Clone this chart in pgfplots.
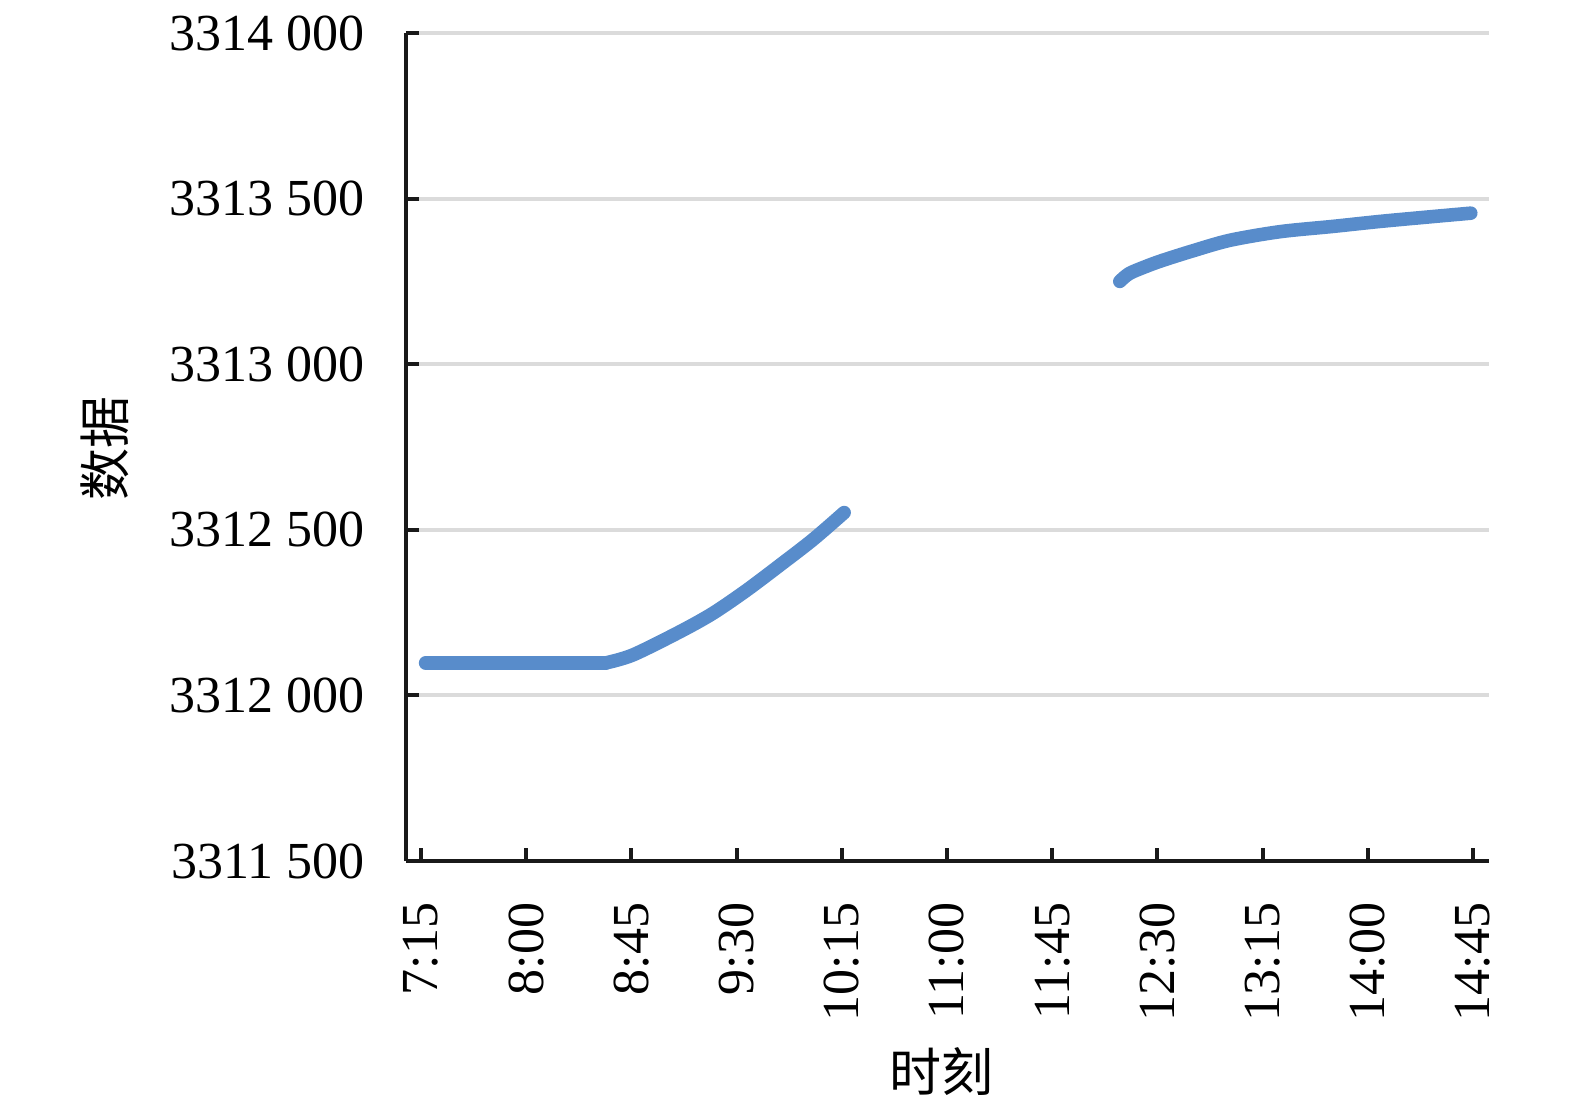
\documentclass[border=0pt]{standalone}
\usepackage{fontspec}
\setmainfont{Liberation Serif}
\newfontfamily\cjk{Noto Sans CJK SC}
\usepackage{pgfplots}
\pgfplotsset{compat=1.18}
\definecolor{lineblue}{RGB}{88,140,203}
\begin{document}
\begin{tikzpicture}
\path[use as bounding box] (-101.5bp,-61.75bp) rectangle (292.25bp,215.25bp);
\begin{axis}[
  scale only axis, width=270.75bp, height=207bp,
  xmin=428.6, xmax=891.8, ymin=3311500, ymax=3314000,
  axis x line*=bottom, axis y line*=left,
  axis line style={-, line width=1bp, black!90},
  major tick length=3.25bp,
  tick style={line width=1bp, black!90},
  xtick={435,480,525,570,615,660,705,750,795,840,885},
  xticklabels={7:15,8:00,8:45,9:30,10:15,11:00,11:45,12:30,13:15,14:00,14:45},
  ytick={3311500,3312000,3312500,3313000,3313500,3314000},
  yticklabels={3311\ 500,3312\ 000,3312\ 500,3313\ 000,3313\ 500,3314\ 000},
  scaled y ticks=false,
  ymajorgrids,
  major grid style={line width=1bp, color=gray!28},
  ticklabel style={font=\fontsize{13bp}{15bp}\selectfont, inner sep=0pt},
  xticklabel style={rotate=90, anchor=east},
  yticklabel style={anchor=east},
  xticklabel shift=10.25bp,
  yticklabel shift=10.25bp,
  xlabel={\cjk 时刻},
  ylabel={\cjk 数据},
  label style={font=\fontsize{13bp}{15bp}\selectfont},
  xlabel style={at={(axis description cs:0.4949,-0.2548)}, anchor=center},
  ylabel style={at={(axis description cs:-0.2779,0.4976)}, anchor=center, rotate=0},
]
\addplot[lineblue, line width=3.4bp, line cap=round, line join=round] coordinates {
  (437,3312098) (460,3312098) (490,3312098) (514,3312098)
};
\addplot[lineblue, line width=3.4bp, line cap=round, line join=round, smooth, tension=0.5] coordinates {
  (514,3312098) (525.6,3312122) (545.7,3312192) (559.9,3312248) (574.4,3312318)
  (588.5,3312393) (602.6,3312470) (616,3312552)
};
\addplot[lineblue, line width=3.4bp, line cap=round, line join=round, smooth, tension=0.5] coordinates {
  (733.9,3313250) (738,3313274) (745.4,3313296) (752,3313313)
  (765,3313342) (780.9,3313374) (802.3,3313400) (825,3313416)
  (845.1,3313431) (865,3313444) (884,3313456)
};
\end{axis}
\end{tikzpicture}
\end{document}
